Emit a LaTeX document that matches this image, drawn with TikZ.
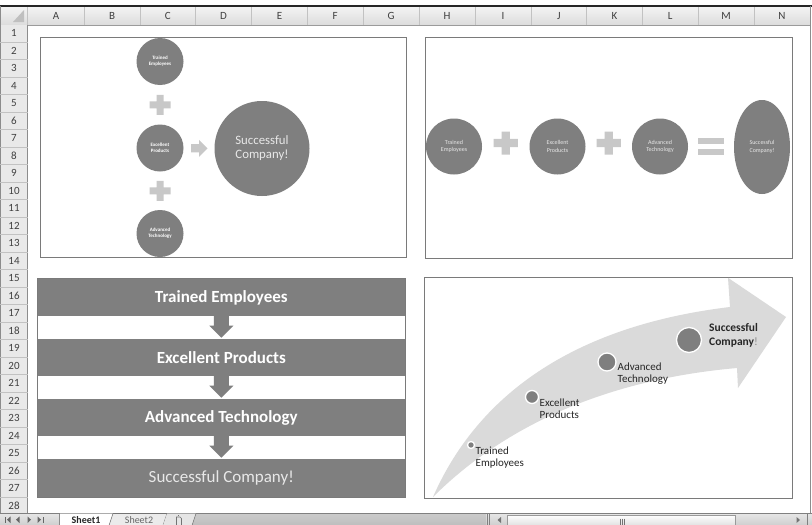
\documentclass[tikz,border=0pt]{standalone}
\usepackage{fontspec}
\setmainfont{Carlito}
\usetikzlibrary{calc,shapes.geometric}
\definecolor{dk}{HTML}{7F7F7F}
\definecolor{plusc}{HTML}{C8C8C8}
\definecolor{arrowc}{HTML}{DADADA}
\definecolor{frame}{HTML}{7A7A7A}
\definecolor{hdrtop}{HTML}{F4F4F4}
\definecolor{hdrbot}{HTML}{DCDCDC}
\definecolor{hdrline}{HTML}{C2C2C2}
\definecolor{rowbg}{HTML}{E9E9E9}
\definecolor{hdrtxtc}{HTML}{404040}
\definecolor{txtlt}{HTML}{E8E8E8}
\definecolor{lbltxt}{HTML}{262626}
\definecolor{tabtop}{HTML}{E6E6E6}
\definecolor{tabbot}{HTML}{CFCFCF}
\definecolor{tabmid}{HTML}{BEBEBE}
\tikzset{
  dkc/.style={circle, fill=dk, text=white, align=center, inner sep=0pt},
  cone/.style={dkc, minimum size=47pt, font=\fontsize{5}{5.8}\selectfont\bfseries},
  ctwo/.style={dkc, minimum size=56pt, font=\fontsize{6}{7.7}\selectfont, text=txtlt},
  band/.style={fill=dk, minimum width=367pt, minimum height=37pt, inner sep=0pt, text=white, font=\fontsize{17}{20}\selectfont\bfseries},
  dotc/.style={circle, fill=dk, draw=white, line width=1.3pt, inner sep=0pt},
  lbl/.style={anchor=west, align=left, inner sep=0pt, text=lbltxt, font=\fontsize{11}{12}\selectfont},
  frm/.style={draw=frame, line width=0.9pt},
  hdrtxt/.style={inner sep=0pt, font=\fontsize{11}{11}\selectfont, text=hdrtxtc},
  pluspic/.pic={\fill[plusc] (-3.5,-10)--(3.5,-10)--(3.5,-3.5)--(10.5,-3.5)--(10.5,3.5)--(3.5,3.5)--(3.5,10)--(-3.5,10)--(-3.5,3.5)--(-10.5,3.5)--(-10.5,-3.5)--(-3.5,-3.5)--cycle;},
  eqpic/.pic={\fill[plusc] (-13,-8.3) rectangle (13,-2.6); \fill[plusc] (-13,2.6) rectangle (13,8.3);},
  rarrpic/.pic={\fill[plusc] (-8,-4.2)--(0,-4.2)--(0,-8.5)--(8.5,0)--(0,8.5)--(0,4.2)--(-8,4.2)--cycle;},
}
\begin{document}
\begin{tikzpicture}[x=1pt,y=-1pt]
\useasboundingbox (0,0) rectangle (812,525);
\fill[white] (0,0) rectangle (812,525);

% ---------- column header ----------
\shade[top color=hdrtop, bottom color=hdrbot] (0,6.5) rectangle (810,25);
\draw[black!85, line width=1.2pt] (0,6) -- (812,6);
\draw[hdrline!80!black, line width=0.6pt] (0,25) -- (810,25);
\foreach \xb in {27.5,84,140,195.5,251.5,307.5,363,419,475,531,586.5,642.5,698,754}
  \draw[hdrline, line width=0.6pt] (\xb,7) -- (\xb,25);
\foreach \l/\xc in {A/56,B/112,C/167.75,D/223.5,E/279.5,F/335.25,G/391,H/447,I/503,J/558.75,K/614.5,L/670.25,M/726,N/782}
  \node[hdrtxt] (col\l) at (\xc,16) {\l};
% corner triangle
\fill[black!25] (24,22) -- (13,22) -- (24,10) -- cycle;

% ---------- row header ----------
\fill[rowbg] (0,25.3) rectangle (27.5,513.5);
\draw[black!45, line width=0.6pt] (27.5,25) -- (27.5,513.5);
\draw[black!45, line width=0.8pt] (0.5,6) -- (0.5,525);
\draw[black!45, line width=0.8pt] (810.5,6) -- (810.5,513.5);
\foreach \k in {1,...,27}
  \draw[hdrline, line width=0.5pt] (0,{24.5+17.5*\k}) -- (27.5,{24.5+17.5*\k});
\foreach \k in {1,...,28}
  \node[hdrtxt] (row\k) at (14,{24.5+17.5*(\k-0.5)}) {\k};

% ---------- box 1 ----------
\draw[frm] (40,37.5) rectangle (406.5,257.5);
\node[cone] (a1) at (160,61.5) {Trained\\Employees};
\node[cone] (a2) at (160,148) {Excellent\\Products};
\node[cone] (a3) at (160,233.5) {Advanced\\Technology};
\node[dkc, minimum size=95pt, text=txtlt, font=\fontsize{12.8}{14}\selectfont] (abig) at (262,148.5) {Successful\\Company!};
\pic at ($(a1)!0.5!(a2)$) {pluspic};
\pic at ($(a2)!0.5!(a3)$) {pluspic};
\pic at ($(a2.east)!0.5!(abig.west)$) {rarrpic};

% ---------- box 2 ----------
\draw[frm] (425.7,37.5) rectangle (792,258);
\node[ctwo] (b1) at (454,146.5) {Trained\\Employees};
\node[ctwo] (b2) at (557.5,146.5) {Excellent\\Products};
\node[ctwo] (b3) at (660,146.5) {Advanced\\Technology};
\node[ellipse, fill=dk, minimum width=56pt, minimum height=94pt, inner sep=0pt, align=center, text=txtlt, font=\fontsize{6}{7.7}\selectfont] (b4) at (762,147) {Successful\\Company!};
\pic[scale=1.15] at ($(b1.east)!0.5!(b2.west)+(0,-3.5)$) {pluspic};
\pic[scale=1.15] at ($(b2.east)!0.5!(b3.west)+(0,-3.5)$) {pluspic};
\pic at ($(b3.east)!0.5!(b4.west)$) {eqpic};

% ---------- box 3 ----------
\node[band] (s1) at (221.3,297.5) {Trained Employees};
\node[band] (s2) at (221.3,357.5) {Excellent Products};
\node[band] (s3) at (221.3,417.5) {Advanced Technology};
\node[band, minimum height=38pt, font=\fontsize{17}{20}\selectfont, text=txtlt] (s4) at (221.3,478) {Successful Company!};
\foreach \u/\v in {s1/s2,s2/s3,s3/s4}
  \fill[dk] (\u.south) ++(-7.5,0) -- ++(0,9.5) -- ++(-4.5,0) -- ++(12,12) -- ++(12,-12) -- ++(-4.5,0) -- ++(0,-9.5) -- cycle;
\draw[frm] (37.5,278.3) rectangle (405.2,497.8);

% ---------- box 4 ----------
\draw[frm] (424,277.5) rectangle (792.3,498);
\fill[arrowc] (433,497) .. controls (480,390) and (580,325) .. (730,307)
   -- (728,277.8) -- (786,317) -- (738,388) -- (737,368)
   .. controls (600,380) and (500,430) .. (433,497) -- cycle;
\node[dotc, minimum size=7pt] (d1) at (471,445) {};
\node[dotc, minimum size=13pt] (d2) at (532,397) {};
\node[dotc, minimum size=18pt] (d3) at (607,362) {};
\node[dotc, minimum size=25pt] (d4) at (689,340) {};
\node[lbl] (t1) at (475.5,458) {Trained\\Employees};
\node[lbl] (t2) at (539.5,409) {Excellent\\Products};
\node[lbl] (t3) at (617.5,374) {Advanced\\Technology};
\node[lbl, font=\fontsize{11.5}{14}\selectfont\bfseries] (t4) at (709,335.5) {Successful\\Company{\mdseries\color{black!45}!}};

% ---------- sheet tab bar ----------
\shade[top color=tabtop, bottom color=tabbot] (0,513.5) rectangle (812,525);
\shade[top color=tabmid!80, bottom color=tabmid] (192,513.5) rectangle (486,525);
\draw[black!50, line width=0.6pt] (0,513.5) -- (812,513.5);
% nav buttons
\fill[black!60] (5,516.5) rectangle (6,523);
\fill[black!60] (7,519.7) -- (10.5,516.5) -- (10.5,523) -- cycle;
\fill[black!60] (16,519.7) -- (19.5,516.5) -- (19.5,523) -- cycle;
\fill[black!60] (31,519.7) -- (27.5,516.5) -- (27.5,523) -- cycle;
\fill[black!60] (41,519.7) -- (37.5,516.5) -- (37.5,523) -- cycle;
\fill[black!60] (42.5,516.5) rectangle (43.5,523);
\draw[black!45, line width=0.6pt] (59,513.5) -- (59,525);
% tabs
\fill[white] (60,513.5) -- (113,513.5) -- (109,525.5) -- (60,525.5) -- cycle;
\fill[black!8] (113,513.5) -- (167,513.5) -- (163,525.5) -- (109,525.5) -- cycle;
\draw[black!55, line width=0.6pt] (109,525.5) -- (113,513.5) -- (167,513.5);
\draw[black!55, line width=0.6pt] (163,525.5) -- (167,513.5);
\fill[black!10] (167,513.5) -- (196,513.5) -- (192,525.5) -- (163,525.5) -- cycle;
\draw[black!55, line width=0.6pt] (192,525.5) -- (196,513.5);
\node[inner sep=0pt, anchor=base, font=\fontsize{10}{10}\selectfont\bfseries, text=black!85] (tab1) at (86,523.8) {Sheet1};
\node[inner sep=0pt, anchor=base, font=\fontsize{10}{10}\selectfont, text=black!60] (tab2) at (139,523.8) {Sheet2};
\draw[black!55, line width=0.6pt] (176.5,525.5) -- (176.5,517) -- (180,517) -- (181.5,518.5) -- (181.5,525.5);
\draw[black!55, line width=0.5pt] (178,516) -- (178,514.8);
% scrollbar
\draw[black!50, line width=0.6pt] (487,514) -- (487,525);
\draw[black!50, line width=0.6pt] (489,514) -- (489,525);
\fill[black!55] (497.5,520) -- (501,517) -- (501,523) -- cycle;
\shade[top color=white, bottom color=black!12] (507.5,515) rectangle (735,525.5);
\draw[black!40, line width=0.6pt] (507.5,525.5) -- (507.5,515) -- (735,515) -- (735,525.5);
\foreach \g in {-2,0,2} \draw[black!55, line width=0.5pt] (622+\g,518.5) -- (622+\g,525);
\fill[black!55] (800,520) -- (796.5,517) -- (796.5,523) -- cycle;
\draw[black!50, line width=0.6pt] (807,514) -- (807,525);
\end{tikzpicture}
\end{document}
